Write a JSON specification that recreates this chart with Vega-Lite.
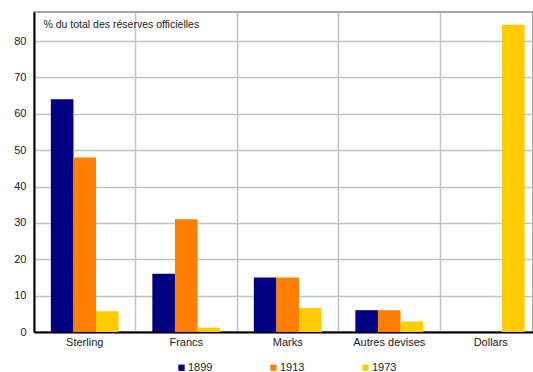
{
  "$schema": "https://vega.github.io/schema/vega-lite/v6.json",
  "autosize": {"type": "none"},
  "width": 499,
  "height": 320,
  "padding": {"left": 34, "top": 12, "right": 0, "bottom": 40},
  "background": "white",
  "config": {
    "font": "Liberation Sans",
    "view": {"stroke": "#8a8a8a", "strokeWidth": 1.5}
  },
  "data": {
    "values": [
      {"devise": "Sterling", "annee": "1899", "part": 64},
      {"devise": "Sterling", "annee": "1913", "part": 48},
      {"devise": "Sterling", "annee": "1973", "part": 5.7},
      {"devise": "Francs", "annee": "1899", "part": 16},
      {"devise": "Francs", "annee": "1913", "part": 31},
      {"devise": "Francs", "annee": "1973", "part": 1.2},
      {"devise": "Marks", "annee": "1899", "part": 15},
      {"devise": "Marks", "annee": "1913", "part": 15},
      {"devise": "Marks", "annee": "1973", "part": 6.6},
      {"devise": "Autres devises", "annee": "1899", "part": 6},
      {"devise": "Autres devises", "annee": "1913", "part": 6},
      {"devise": "Autres devises", "annee": "1973", "part": 2.9},
      {"devise": "Dollars", "annee": "1899", "part": 0},
      {"devise": "Dollars", "annee": "1913", "part": 0},
      {"devise": "Dollars", "annee": "1973", "part": 84.5}
    ]
  },
  "mark": {"type": "bar", "stroke": null},
  "encoding": {
    "x": {
      "field": "devise",
      "type": "nominal",
      "sort": null,
      "scale": {"range": [0, 507.5], "paddingInner": 0, "paddingOuter": 0},
      "axis": {
        "title": null,
        "bandPosition": 0,
        "labelOffset": 0,
        "labelAngle": 0,
        "labelFontSize": 11,
        "labelColor": "#222",
        "labelPadding": 4,
        "ticks": false,
        "grid": true,
        "gridColor": "#c4c4c4",
        "gridWidth": 1.5,
        "domainColor": "#000",
        "domainWidth": 2
      }
    },
    "xOffset": {
      "field": "annee",
      "type": "nominal",
      "scale": {"paddingInner": 0, "paddingOuter": 0.745}
    },
    "y": {
      "field": "part",
      "type": "quantitative",
      "scale": {"domain": [0, 88], "nice": false},
      "axis": {
        "title": "% du total des réserves officielles",
        "titleAngle": 0,
        "titleAlign": "left",
        "titleBaseline": "middle",
        "titleX": 9,
        "titleY": 12,
        "titleFontSize": 10.5,
        "titleFontWeight": "normal",
        "titleColor": "#222",
        "values": [0, 10, 20, 30, 40, 50, 60, 70, 80],
        "labelFontSize": 11,
        "labelColor": "#222",
        "labelPadding": 8,
        "ticks": false,
        "grid": true,
        "gridColor": "#c4c4c4",
        "gridWidth": 1.5,
        "domainColor": "#000",
        "domainWidth": 2
      }
    },
    "color": {
      "field": "annee",
      "type": "nominal",
      "scale": {"domain": ["1899", "1913", "1973"], "range": ["#000080", "#ff7f00", "#ffcc00"]},
      "legend": {
        "title": null,
        "orient": "none",
        "direction": "horizontal",
        "legendX": 142,
        "legendY": 350,
        "symbolType": "square",
        "symbolSize": 40,
        "symbolStrokeWidth": 0,
        "labelFontSize": 11,
        "labelColor": "#222",
        "labelOffset": 1,
        "columnPadding": 55
      }
    }
  }
}
